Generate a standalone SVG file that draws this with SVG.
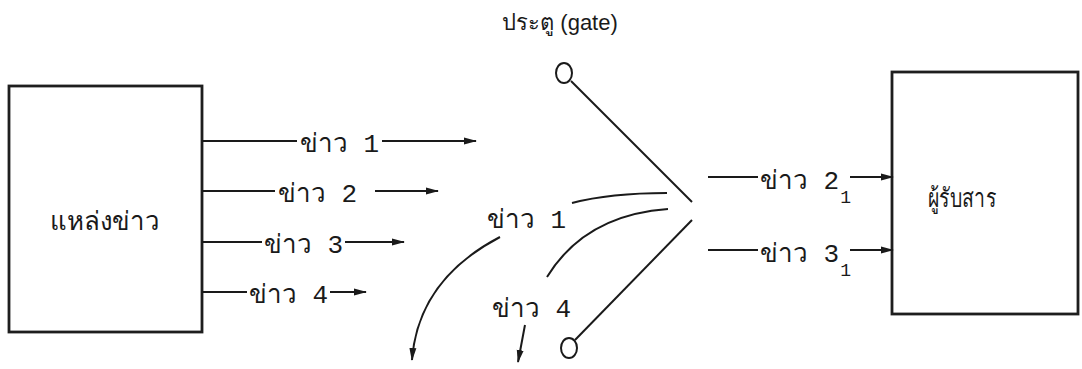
<svg xmlns="http://www.w3.org/2000/svg" width="1082" height="369" viewBox="0 0 1082 369">
<style>
  .box { fill: none; stroke: #1e1e1e; stroke-width: 2.8; }
  .ln { fill: none; stroke: #1a1a1a; stroke-width: 2; }
  .arr { fill: none; stroke: #1a1a1a; stroke-width: 2; marker-end: url(#ah); }
  .t { font-family: "Liberation Mono", "DejaVu Sans Mono", monospace; font-size: 26px; fill: #1a1a1a; }
  .ttl { font-family: "Liberation Sans", "DejaVu Sans", sans-serif; font-size: 22px; }
  .sub { font-size: 18px; }
</style>
<defs>
  <marker id="ah" viewBox="0 0 13 8" refX="12" refY="4" markerWidth="13" markerHeight="8" markerUnits="userSpaceOnUse" orient="auto">
    <path d="M0,0.5 L13,4 L0,7.5 z" fill="#1a1a1a"/>
  </marker>
</defs>
<rect width="1082" height="369" fill="#ffffff"/>

<g id="source">
  <rect class="box" x="9" y="86" width="193" height="246"/>
  <text class="t" x="105" y="230" text-anchor="middle" textLength="110" lengthAdjust="spacingAndGlyphs">แหล่งข่าว</text>
</g>

<g id="receiver">
  <rect class="box" x="892" y="72" width="186" height="242"/>
  <text class="t" x="928" y="207" textLength="68" lengthAdjust="spacingAndGlyphs">ผู้รับสาร</text>
</g>

<g id="gate">
  <text class="t ttl" x="560" y="30" text-anchor="middle">ประตู (gate)</text>
  <ellipse cx="564" cy="73" rx="8" ry="10" fill="none" stroke="#1a1a1a" stroke-width="2"/>
  <ellipse cx="569" cy="348" rx="8" ry="10" fill="none" stroke="#1a1a1a" stroke-width="2"/>
</g>

<g id="labels">
  <text class="t" x="300" y="152">ข่าว 1</text>
  <text class="t" x="278" y="202">ข่าว 2</text>
  <text class="t" x="264" y="253">ข่าว 3</text>
  <text class="t" x="249" y="303">ข่าว 4</text>
  <text class="t" x="487" y="228">ข่าว 1</text>
  <text class="t" x="492" y="317">ข่าว 4</text>
  <text class="t" x="760" y="189">ข่าว 2<tspan class="sub" dx="1" dy="14">1</tspan></text>
  <text class="t" x="760" y="262">ข่าว 3<tspan class="sub" dx="1" dy="14">1</tspan></text>
</g>

<g id="connectors">
  <line class="ln" x1="202" y1="141" x2="297" y2="141"/>
  <line class="arr" x1="382" y1="141" x2="476" y2="141"/>
  <line class="ln" x1="202" y1="191" x2="275" y2="191"/>
  <line class="arr" x1="375" y1="191" x2="438" y2="191"/>
  <line class="ln" x1="202" y1="242" x2="262" y2="242"/>
  <line class="arr" x1="345" y1="242" x2="404" y2="242"/>
  <line class="ln" x1="202" y1="292" x2="247" y2="292"/>
  <line class="arr" x1="330" y1="292" x2="366" y2="292"/>

  <line class="ln" x1="571" y1="81" x2="692" y2="202"/>
  <line class="ln" x1="692" y1="220" x2="575" y2="340"/>
  <path class="ln" d="M572,203 Q610,193 667,193"/>
  <path class="ln" d="M547,277 Q585,215 668,209"/>
  <path class="arr" d="M500,237 Q418,280 412,360"/>
  <path class="arr" d="M525,325 L518,362"/>

  <line class="ln" x1="708" y1="177" x2="758" y2="177"/>
  <line class="arr" x1="850" y1="177" x2="893" y2="177"/>
  <line class="ln" x1="708" y1="250" x2="758" y2="250"/>
  <line class="arr" x1="850" y1="250" x2="893" y2="250"/>
</g>
</svg>
